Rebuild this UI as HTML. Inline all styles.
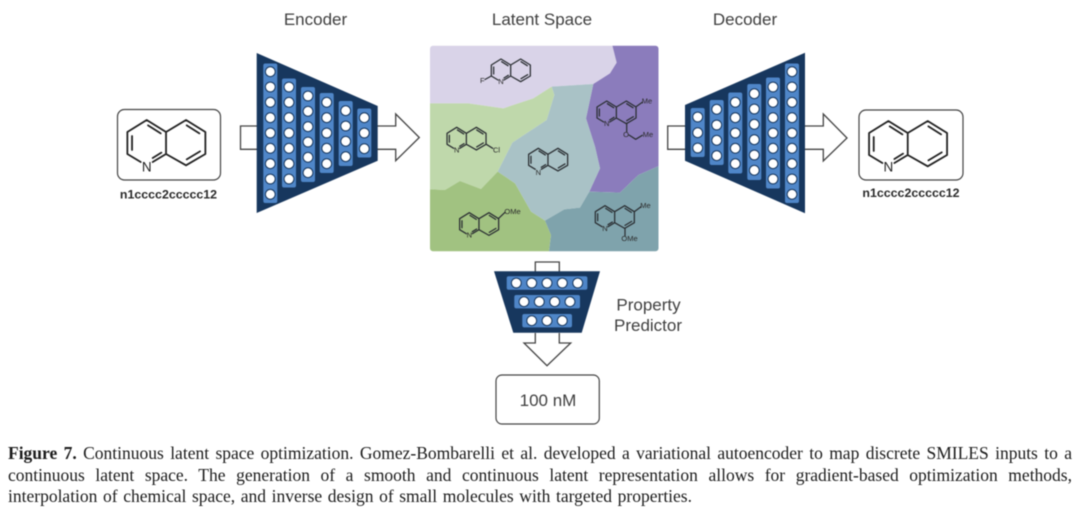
<!DOCTYPE html>
<html lang="en">
<head>
<meta charset="utf-8">
<title>Continuous latent space optimization</title>
<style>
html,body{margin:0;padding:0;background:#fff;width:1080px;height:510px;overflow:hidden}
#wrap{position:relative;width:1080px;height:510px;filter:blur(.45px)}
svg{position:absolute;left:0;top:0}
.t{font-family:"Liberation Sans",Arial,sans-serif;fill:#3f3f3f;text-anchor:middle}
.a{font-family:"Liberation Sans",Arial,sans-serif;fill:#2b2b2b;text-anchor:middle;font-size:7.5px}
.n{fill:#fff;stroke:#17375e;stroke-width:1;}
.l{fill:none;stroke:#2b2f33;stroke-width:1.25;stroke-linecap:round;stroke-linejoin:round}
.o{fill:#fff;stroke:#444;stroke-width:1.3}
.cap{position:absolute;left:8px;font-family:"Liberation Serif","Times New Roman",serif;font-size:17.5px;line-height:21px;height:21px;color:#1c1c1c;text-align:justify;text-align-last:justify;white-space:nowrap}
</style>
</head>
<body>
<div id="wrap">
<svg width="1080" height="510" viewBox="0 0 1080 510" xmlns="http://www.w3.org/2000/svg">
<defs>
<g id="q" fill="none" stroke-linecap="round" stroke-linejoin="round">
<path d="M-9,63L-29,51L-29,18L0,0L29,18L29,51L9,63M29,18L59,0L88,18L88,51L59,68L29,51"/>
<path d="M2,8L21,20M-22,24L-22,45M9,57L22,49M60,8L79,20M80,47L60,59"/>
</g>
</defs>

<!-- titles -->
<text class="t" x="315.5" y="25" font-size="17">Encoder</text>
<text class="t" x="542" y="25" font-size="17">Latent Space</text>
<text class="t" x="745" y="25" font-size="17">Decoder</text>

<!-- input molecule -->
<rect x="117.5" y="109.5" width="103" height="70.5" rx="7" fill="#fff" stroke="#444" stroke-width="1.2"/>
<use href="#q" transform="translate(146.7,120) scale(.6667)" stroke="#222" stroke-width="2.7"/>
<text x="146.7" y="171.5" font-family="Liberation Sans,Arial,sans-serif" font-size="13.5" fill="#222" text-anchor="middle">N</text>
<text x="168.5" y="198.5" font-family="Liberation Sans,Arial,sans-serif" font-size="12.4" font-weight="bold" fill="#2a2a2a" text-anchor="middle">n1cccc2ccccc12</text>

<!-- encoder arrows -->
<path class="o" d="M257,126H240.5V149.3H257"/>
<path class="o" d="M377,126H395.7V114L419.3,137.5L395.7,160.7V149.3H377"/>

<!-- encoder -->
<polygon points="256.7,53 377.7,106 377.7,160.7 256.7,213" fill="#17375e"/>
<g fill="#4f86c8">
<rect x="263.3" y="63.5" width="14" height="139.5" rx="2"/>
<rect x="282" y="78.5" width="14" height="109" rx="2"/>
<rect x="301" y="87" width="14" height="95" rx="2"/>
<rect x="319.7" y="93" width="14" height="80" rx="2"/>
<rect x="338.7" y="101" width="14" height="65" rx="2"/>
<rect x="357.3" y="108.5" width="14" height="49" rx="2"/>
</g>
<g class="n">
<circle cx="270.3" cy="71.7" r="4.9"/><circle cx="270.3" cy="87" r="4.9"/><circle cx="270.3" cy="102.3" r="4.9"/><circle cx="270.3" cy="117.7" r="4.9"/><circle cx="270.3" cy="133" r="4.9"/><circle cx="270.3" cy="148.3" r="4.9"/><circle cx="270.3" cy="163.7" r="4.9"/><circle cx="270.3" cy="179" r="4.9"/><circle cx="270.3" cy="194.3" r="4.9"/>
<circle cx="289" cy="87" r="4.9"/><circle cx="289" cy="102.3" r="4.9"/><circle cx="289" cy="117.7" r="4.9"/><circle cx="289" cy="133" r="4.9"/><circle cx="289" cy="148.3" r="4.9"/><circle cx="289" cy="163.7" r="4.9"/><circle cx="289" cy="179" r="4.9"/>
<circle cx="308" cy="96" r="4.9"/><circle cx="308" cy="111.3" r="4.9"/><circle cx="308" cy="126.7" r="4.9"/><circle cx="308" cy="142" r="4.9"/><circle cx="308" cy="157.3" r="4.9"/><circle cx="308" cy="172.7" r="4.9"/>
<circle cx="326.7" cy="102.3" r="4.9"/><circle cx="326.7" cy="117.7" r="4.9"/><circle cx="326.7" cy="133" r="4.9"/><circle cx="326.7" cy="148.3" r="4.9"/><circle cx="326.7" cy="163.7" r="4.9"/>
<circle cx="345.7" cy="110.7" r="4.9"/><circle cx="345.7" cy="126" r="4.9"/><circle cx="345.7" cy="141.3" r="4.9"/><circle cx="345.7" cy="156.7" r="4.9"/>
<circle cx="364.3" cy="117.7" r="4.9"/><circle cx="364.3" cy="133" r="4.9"/><circle cx="364.3" cy="148.7" r="4.9"/>
</g>

<!-- latent space -->
<clipPath id="lc"><rect x="430" y="45.7" width="228.5" height="205.5" rx="3"/></clipPath>
<g clip-path="url(#lc)">
<g transform="translate(425,40) scale(.33333)">
<polygon fill="#d9d3e8" points="0,0 558,0 575,68 555,100 505,132 380,140 325,175 235,205 130,190 0,190"/>
<polygon fill="#8b7cbc" points="558,0 720,0 720,370 640,405 585,458 493,455 525,385 510,320 483,235 505,132 555,100 575,68"/>
<polygon fill="#bfd8ab" points="0,190 130,190 235,205 325,175 380,140 388,165 365,240 262,308 218,395 168,447 105,423 60,450 0,447"/>
<polygon fill="#a9c2c6" points="380,140 505,132 483,235 510,320 525,385 493,455 465,503 418,508 360,542 318,515 270,430 218,395 262,308 365,240 388,165"/>
<polygon fill="#a1c281" points="0,447 60,450 105,423 168,447 218,395 270,430 318,515 360,542 378,585 370,650 0,650"/>
<polygon fill="#7fa3ac" points="360,542 418,508 465,503 493,455 585,458 640,405 720,370 720,650 370,650 378,585"/>
</g>
</g>

<!-- latent molecules -->
<g stroke="#2b2f33" stroke-width="3.8">
<use href="#q" transform="translate(501,59) scale(.33333)"/>
<use href="#q" transform="translate(456.7,127.3) scale(.33333)"/>
<use href="#q" transform="translate(538.3,148.3) scale(.33333)"/>
<use href="#q" transform="translate(469.3,212.7) scale(.33333)"/>
<use href="#q" transform="translate(606.7,101) scale(.33333)"/>
<use href="#q" transform="translate(605,205.7) scale(.33333)"/>
</g>
<path class="l" d="M491.3,76L485,79.5M486.3,144.3L492.7,148.3M498.3,218.7L505,212.3M636,106.7L642.3,102.3M626.7,123.3V131.7M629,135L635.7,139.3L642.3,135.3M634.3,211.7L641,206.7M625,228.3V235.7"/>
<text class="a" x="482.3" y="83.2">F</text>
<text class="a" x="501" y="84.2">N</text>
<text class="a" x="456.7" y="152.6">N</text>
<text class="a" x="496.5" y="152.6">Cl</text>
<text class="a" x="538.3" y="175.2">N</text>
<text class="a" x="469.3" y="237.6">N</text>
<text class="a" x="512.5" y="213.8">OMe</text>
<text class="a" x="606.7" y="125.8">N</text>
<text class="a" x="647" y="103.5">Me</text>
<text class="a" x="626" y="136.9">O</text>
<text class="a" x="648" y="137.2">Me</text>
<text class="a" x="605" y="230.8">N</text>
<text class="a" x="645.5" y="207.8">Me</text>
<text class="a" x="629.5" y="241.2">OMe</text>

<!-- decoder arrows -->
<path class="o" d="M685,126H667.7V149.3H685"/>
<path class="o" d="M805,126H823.3V114L847,138L823.3,161V149.3H805"/>

<!-- decoder -->
<polygon points="685,105 805,52.7 805,213.3 685,160.7" fill="#17375e"/>
<g fill="#4f86c8">
<rect x="690.7" y="108" width="14" height="49" rx="2"/>
<rect x="709.7" y="100" width="14" height="65" rx="2"/>
<rect x="728.3" y="92.5" width="14" height="81" rx="2"/>
<rect x="747.3" y="84" width="14" height="96" rx="2"/>
<rect x="766" y="77.5" width="14" height="111" rx="2"/>
<rect x="785" y="63.5" width="14" height="139.5" rx="2"/>
</g>
<g class="n">
<circle cx="697.7" cy="117" r="4.9"/><circle cx="697.7" cy="132.7" r="4.9"/><circle cx="697.7" cy="148" r="4.9"/>
<circle cx="716.7" cy="109.3" r="4.9"/><circle cx="716.7" cy="125" r="4.9"/><circle cx="716.7" cy="140.3" r="4.9"/><circle cx="716.7" cy="155.7" r="4.9"/>
<circle cx="735.3" cy="102.3" r="4.9"/><circle cx="735.3" cy="117.7" r="4.9"/><circle cx="735.3" cy="133" r="4.9"/><circle cx="735.3" cy="148.3" r="4.9"/><circle cx="735.3" cy="163.7" r="4.9"/>
<circle cx="754.3" cy="93.7" r="4.9"/><circle cx="754.3" cy="109" r="4.9"/><circle cx="754.3" cy="124.3" r="4.9"/><circle cx="754.3" cy="139.7" r="4.9"/><circle cx="754.3" cy="155" r="4.9"/><circle cx="754.3" cy="170.3" r="4.9"/>
<circle cx="773" cy="87" r="4.9"/><circle cx="773" cy="102.3" r="4.9"/><circle cx="773" cy="117.7" r="4.9"/><circle cx="773" cy="133" r="4.9"/><circle cx="773" cy="148.3" r="4.9"/><circle cx="773" cy="163.7" r="4.9"/><circle cx="773" cy="179" r="4.9"/>
<circle cx="792" cy="71.7" r="4.9"/><circle cx="792" cy="87" r="4.9"/><circle cx="792" cy="102.3" r="4.9"/><circle cx="792" cy="117.7" r="4.9"/><circle cx="792" cy="133" r="4.9"/><circle cx="792" cy="148.3" r="4.9"/><circle cx="792" cy="163.7" r="4.9"/><circle cx="792" cy="179" r="4.9"/><circle cx="792" cy="194.3" r="4.9"/>
</g>

<!-- output molecule -->
<rect x="859" y="110" width="104" height="70" rx="7" fill="#fff" stroke="#444" stroke-width="1.2"/>
<use href="#q" transform="translate(888.4,121) scale(.6667)" stroke="#222" stroke-width="2.7"/>
<text x="888.4" y="171.5" font-family="Liberation Sans,Arial,sans-serif" font-size="13.5" fill="#222" text-anchor="middle">N</text>
<text x="911" y="197" font-family="Liberation Sans,Arial,sans-serif" font-size="12.4" font-weight="bold" fill="#2a2a2a" text-anchor="middle">n1cccc2ccccc12</text>

<!-- property predictor -->
<path class="o" d="M535.3,272V262H559.3V272"/>
<polygon points="494,271.3 600,271.3 581.7,332.7 513.3,332.7" fill="#17375e"/>
<g fill="#4f86c8">
<rect x="506.7" y="276.3" width="80.7" height="13.4" rx="2"/>
<rect x="514.3" y="295" width="65.7" height="13.4" rx="2"/>
<rect x="522.3" y="314" width="49.7" height="13.4" rx="2"/>
</g>
<g class="n">
<circle cx="516.3" cy="283" r="4.9"/><circle cx="531.7" cy="283" r="4.9"/><circle cx="547" cy="283" r="4.9"/><circle cx="562.3" cy="283" r="4.9"/><circle cx="577.7" cy="283" r="4.9"/>
<circle cx="524" cy="301.7" r="4.9"/><circle cx="539.3" cy="301.7" r="4.9"/><circle cx="554.7" cy="301.7" r="4.9"/><circle cx="570" cy="301.7" r="4.9"/>
<circle cx="531.7" cy="320.7" r="4.9"/><circle cx="547" cy="320.7" r="4.9"/><circle cx="562.3" cy="320.7" r="4.9"/>
</g>
<path class="o" d="M535.3,333V343H524L547,365.7L570.7,343H559.3V333"/>
<rect x="496" y="375" width="103.3" height="49" rx="6" fill="#fff" stroke="#444" stroke-width="1.2"/>
<text class="t" x="548" y="406" font-size="17">100 nM</text>
<text class="t" x="648.5" y="310.5" font-size="17">Property</text>
<text class="t" x="648" y="331" font-size="17">Predictor</text>
</svg>

<div class="cap" style="top:443px;width:1064px"><b>Figure 7.</b> Continuous latent space optimization. Gomez-Bombarelli et al. developed a variational autoencoder to map discrete SMILES inputs to a</div>
<div class="cap" style="top:465px;width:1064px">continuous latent space. The generation of a smooth and continuous latent representation allows for gradient-based optimization methods,</div>
<div class="cap" style="top:486px;width:684px">interpolation of chemical space, and inverse design of small molecules with targeted properties.</div>
</div>
</body>
</html>
